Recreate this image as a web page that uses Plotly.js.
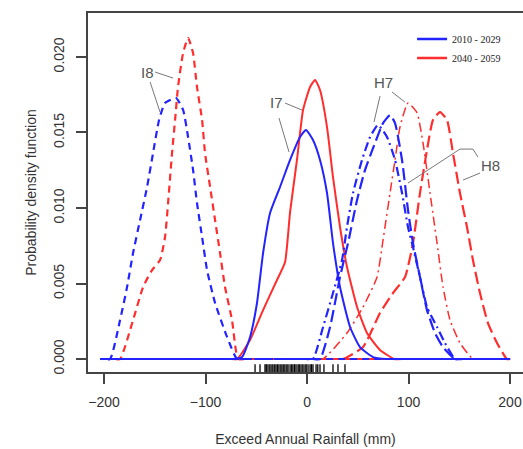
<!DOCTYPE html>
<html>
<head>
<meta charset="utf-8">
<script src="https://cdn.plot.ly/plotly-3.0.1.min.js"></script>
<style>html,body{margin:0;padding:0;overflow:hidden;background:#fff}</style>
</head>
<body>
<div id="chart" style="width:523px;height:449px"></div>
<script>
// I8, 2010-2029 (blue dashed)
const i8_2010_x = [-200, -204, -202, -194.1, -184.2, -177.3, -171.4, -164.5, -157.6, -151.7, -145.8, -139.9, -129.1, -122.1, -117.2, -112.3, -108.4, -103.4, -98.5, -90.6, -78.8, -69.0, -62, -55, 200];
const i8_2010_y = [0, 0, 0, 0, 0.00258, 0.00477, 0.00702, 0.00920, 0.01139, 0.01364, 0.01583, 0.01695, 0.01728, 0.01649, 0.01470, 0.01252, 0.01033, 0.00808, 0.00589, 0.00371, 0.00146, 0, 0, 0, 0];
// I8, 2040-2059 (red dashed)
const i8_2040_x = [-200, -194, -190, -184.2, -171.4, -161.5, -152.7, -144.8, -139.9, -136.9, -133.0, -130.0, -127.1, -122.1, -117.2, -112.3, -108.4, -103.4, -100.5, -95.5, -90.6, -85.7, -80.8, -73.9, -68.0, -62, -55, 200];
const i8_2040_y = [0, 0, 0, 0, 0.00258, 0.00477, 0.00589, 0.00655, 0.00808, 0.01033, 0.01364, 0.01583, 0.01801, 0.02026, 0.02126, 0.02026, 0.01801, 0.01583, 0.01364, 0.01139, 0.00920, 0.00702, 0.00477, 0.00258, 0, 0, 0, 0];
// I7, 2010-2029 (blue solid)
const i7_2010_x = [-200, -84, -78, -70.9, -64.0, -56.1, -49.3, -43.3, -36.4, -26.6, -16.7, -6.9, -1.0, 5.9, 12.8, 19.7, 25.6, 32.5, 42.4, 52.2, 65.0, 78, 88, 96, 200];
const i7_2010_y = [0, 0, 0, 0, 0.00013, 0.00146, 0.00371, 0.00702, 0.00967, 0.01139, 0.01318, 0.01470, 0.01517, 0.01450, 0.01318, 0.01099, 0.00768, 0.00477, 0.00212, 0.00079, 0.00013, 0, 0, 0, 0];
// I7, 2040-2059 (red solid)
const i7_2040_x = [-200, -82, -76, -68.9, -56.1, -43.3, -29.6, -21.7, -16.7, -9.9, -3.9, 3.0, 7.9, 12.8, 19.7, 25.6, 32.5, 39.4, 49.3, 59.1, 71.9, 86, 96, 104, 200];
const i7_2040_y = [0, 0, 0, 0, 0.00126, 0.00324, 0.00523, 0.00640, 0.00973, 0.01318, 0.01649, 0.01801, 0.01848, 0.01781, 0.01536, 0.01205, 0.00874, 0.00609, 0.00344, 0.00172, 0.00060, 0, 0, 0, 0];
// H7, 2010-2029 (blue dot-dash)
const h7_2010_x = [-200, -8, -1, 5.9, 15.8, 25.6, 34.5, 39.4, 45.3, 54.2, 62.1, 69.9, 78.8, 86.7, 93.6, 99.5, 104.4, 111.3, 118.2, 128.1, 135.9, 145.8, 153, 160, 200];
const h7_2010_y = [0, 0, 0, 0, 0.00212, 0.00437, 0.00655, 0.00874, 0.01099, 0.01318, 0.01470, 0.01549, 0.01470, 0.01318, 0.01099, 0.00874, 0.00741, 0.00543, 0.00344, 0.00212, 0.00106, 0, 0, 0, 0];
// H8, 2010-2029 (blue long dash)
const h8_2010_x = [-200, -1, 6, 12.8, 22.7, 32.5, 40.4, 49.3, 57.1, 67.0, 74.9, 81.8, 86.7, 93.6, 99.5, 104.4, 111.3, 118.2, 126.1, 134.0, 145.8, 153, 160, 200];
const h8_2010_y = [0, 0, 0, 0, 0.00212, 0.00543, 0.00768, 0.01053, 0.01251, 0.01430, 0.01562, 0.01615, 0.01562, 0.01318, 0.00986, 0.00768, 0.00543, 0.00324, 0.00172, 0.00079, 0, 0, 0, 0];
// H7, 2040-2059 (red dot-dash)
const h7_2040_x = [-200, 2, 9, 15.8, 39.4, 55.2, 69.0, 74.9, 81.8, 86.7, 91.6, 99.5, 108.4, 114.3, 121.2, 128.1, 134.0, 140.9, 150.7, 163.5, 171, 178, 200];
const h7_2040_y = [0, 0, 0, 0, 0.00172, 0.00344, 0.00543, 0.00788, 0.01099, 0.01318, 0.01536, 0.01695, 0.01629, 0.01430, 0.01099, 0.00768, 0.00477, 0.00258, 0.00106, 0, 0, 0, 0];
// H8, 2040-2059 (red long dash)
const h8_2040_x = [-200, 22, 29, 35.5, 55.2, 71.9, 84.7, 96.6, 104.4, 111.3, 118.2, 124.1, 131.0, 137.9, 143.8, 150.7, 157.6, 163.5, 170.4, 178.3, 187.2, 197.0, 200, 203];
const h8_2040_y = [0, 0, 0, 0, 0.00079, 0.00305, 0.00437, 0.00543, 0.00768, 0.01099, 0.01384, 0.01583, 0.01635, 0.01583, 0.01364, 0.01099, 0.00874, 0.00655, 0.00437, 0.00238, 0.00106, 0, 0, 0];
// rug of observed values
const rug_x = [-51.2, -46.3, -41.4, -40.2, -39.4, -37.5, -36.4, -34.6, -33.5, -31.8, -30.5, -28.9, -27.6, -25.8, -24.6, -22.9, -21.7, -19.9, -18.7, -16.7, -15.1, -13.8, -12.2, -10.8, -8.9, -7.8, -6.9, -5.0, -3.9, -2.0, -0.8, 1.0, 3.0, 4.4, 5.9, 8.9, 10.6, 12.8, 16.7, 25.6, 30.5, 37.4];

const series_names = ['2010 - 2029', '2040 - 2059'];
const x_ticks = [-200, -100, 0, 100, 200];
const y_ticks = [0, 0.005, 0.010, 0.015, 0.020];
const y_tick_text = ['0.000', '0.005', '0.010', '0.015', '0.020'];

const BLUE = 'rgb(35,35,255)';
const RED = 'rgb(255,45,45)';
const DASH_SHORT = '7px,5px';
const DASH_LONG = '12px,5px';
const DOTDASH = '2px,4px,9px,4px';

function curve(x, y, color, dash, width) {
  return {x: x, y: y, type: 'scatter', mode: 'lines', showlegend: false, hoverinfo: 'skip',
    line: {color: color, dash: dash, width: width, shape: 'spline', smoothing: 0.5}};
}

const traces = [
  curve(i8_2040_x, i8_2040_y, RED, DASH_SHORT, 2.2),
  curve(i7_2040_x, i7_2040_y, RED, 'solid', 2),
  curve(h7_2040_x, h7_2040_y, RED, DOTDASH, 1.5),
  curve(h8_2040_x, h8_2040_y, RED, DASH_LONG, 2.2),
  curve(i8_2010_x, i8_2010_y, BLUE, DASH_SHORT, 2.2),
  curve(i7_2010_x, i7_2010_y, BLUE, 'solid', 2),
  curve(h7_2010_x, h7_2010_y, BLUE, DOTDASH, 2.2),
  curve(h8_2010_x, h8_2010_y, BLUE, DASH_LONG, 2.2),
  {x: rug_x, y: rug_x.map(() => -0.00062), type: 'scatter', mode: 'markers', showlegend: false, hoverinfo: 'skip',
    cliponaxis: false,
    marker: {symbol: 'line-ns-open', size: 6, color: '#000', line: {width: 1.3, color: '#111'}}},
  {x: [null], y: [null], type: 'scatter', mode: 'lines', name: series_names[0], line: {color: BLUE, width: 2.5}},
  {x: [null], y: [null], type: 'scatter', mode: 'lines', name: series_names[1], line: {color: RED, width: 2.5}}
];

const LBL = {family: 'Liberation Sans, Arial, sans-serif', size: 15, color: '#555'};
const LEAD = {color: '#777', width: 1};

const layout = {
  width: 523, height: 449, autosize: false,
  margin: {l: 88, r: 0, t: 13, b: 77, pad: 0},
  paper_bgcolor: '#fff', plot_bgcolor: '#fff',
  font: {family: 'Liberation Sans, Arial, sans-serif', color: '#333'},
  xaxis: {
    range: [-215.8, 212.8], tickvals: x_ticks, ticks: 'outside', ticklen: 10, tickwidth: 2, tickcolor: '#444',
    showline: true, linecolor: '#444', linewidth: 2, mirror: true, showgrid: false, zeroline: false,
    tickfont: {size: 14, color: '#333'}, ticklabelstandoff: 6,
    title: {text: 'Exceed Annual Rainfall (mm)', font: {size: 14, color: '#333'}, standoff: 25}
  },
  yaxis: {
    range: [-0.00086, 0.02291], tickvals: y_ticks, ticktext: y_tick_text, tickangle: -90,
    ticks: 'outside', ticklen: 10, tickwidth: 2, tickcolor: '#444',
    showline: true, linecolor: '#444', linewidth: 2, showgrid: false, zeroline: false,
    tickfont: {size: 14, color: '#333'}, ticklabelstandoff: 6,
    title: {text: 'Probability density function', font: {size: 14, color: '#333'}, standoff: 12}
  },
  legend: {x: 0.745, y: 0.968, xanchor: 'left', yanchor: 'top', bgcolor: 'rgba(0,0,0,0)',
    font: {family: 'Liberation Serif, Times New Roman, serif', size: 10, color: '#222'}, tracegroupgap: 0},
  annotations: [
    {x: -157.6, y: 0.0190, text: 'I8', showarrow: false, font: LBL},
    {x: -30.5, y: 0.0170, text: 'I7', showarrow: false, font: LBL},
    {x: 74.9, y: 0.01834, text: 'H7', showarrow: false, font: LBL},
    {x: 180.3, y: 0.01284, text: 'H8', showarrow: false, font: LBL}
  ],
  shapes: [
    {type: 'line', xref: 'x', yref: 'y', x0: -149.7, y0: 0.0190, x1: -132.0, y1: 0.0186, line: LEAD},
    {type: 'line', xref: 'x', yref: 'y', x0: -154.6, y0: 0.01834, x1: -144.8, y1: 0.01635, line: LEAD},
    {type: 'line', xref: 'x', yref: 'y', x0: -21.7, y0: 0.01695, x1: -4.9, y1: 0.01648, line: LEAD},
    {type: 'line', xref: 'x', yref: 'y', x0: -27.6, y0: 0.01595, x1: -17.7, y1: 0.0137, line: LEAD},
    {type: 'line', xref: 'x', yref: 'y', x0: 71.9, y0: 0.01741, x1: 66.0, y1: 0.01569, line: LEAD},
    {type: 'line', xref: 'x', yref: 'y', x0: 83.7, y0: 0.01768, x1: 96.5, y1: 0.01701, line: LEAD},
    {type: 'path', xref: 'x', yref: 'y', path: 'M 99.5 0.01165 L 150.7 0.0139 L 163.5 0.0139 L 168.4 0.01337', line: LEAD},
    {type: 'line', xref: 'x', yref: 'y', x0: 153.7, y0: 0.01185, x1: 170.4, y1: 0.01231, line: LEAD}
  ]
};

Plotly.newPlot('chart', traces, layout, {staticPlot: true, displayModeBar: false});
</script>
</body>
</html>
